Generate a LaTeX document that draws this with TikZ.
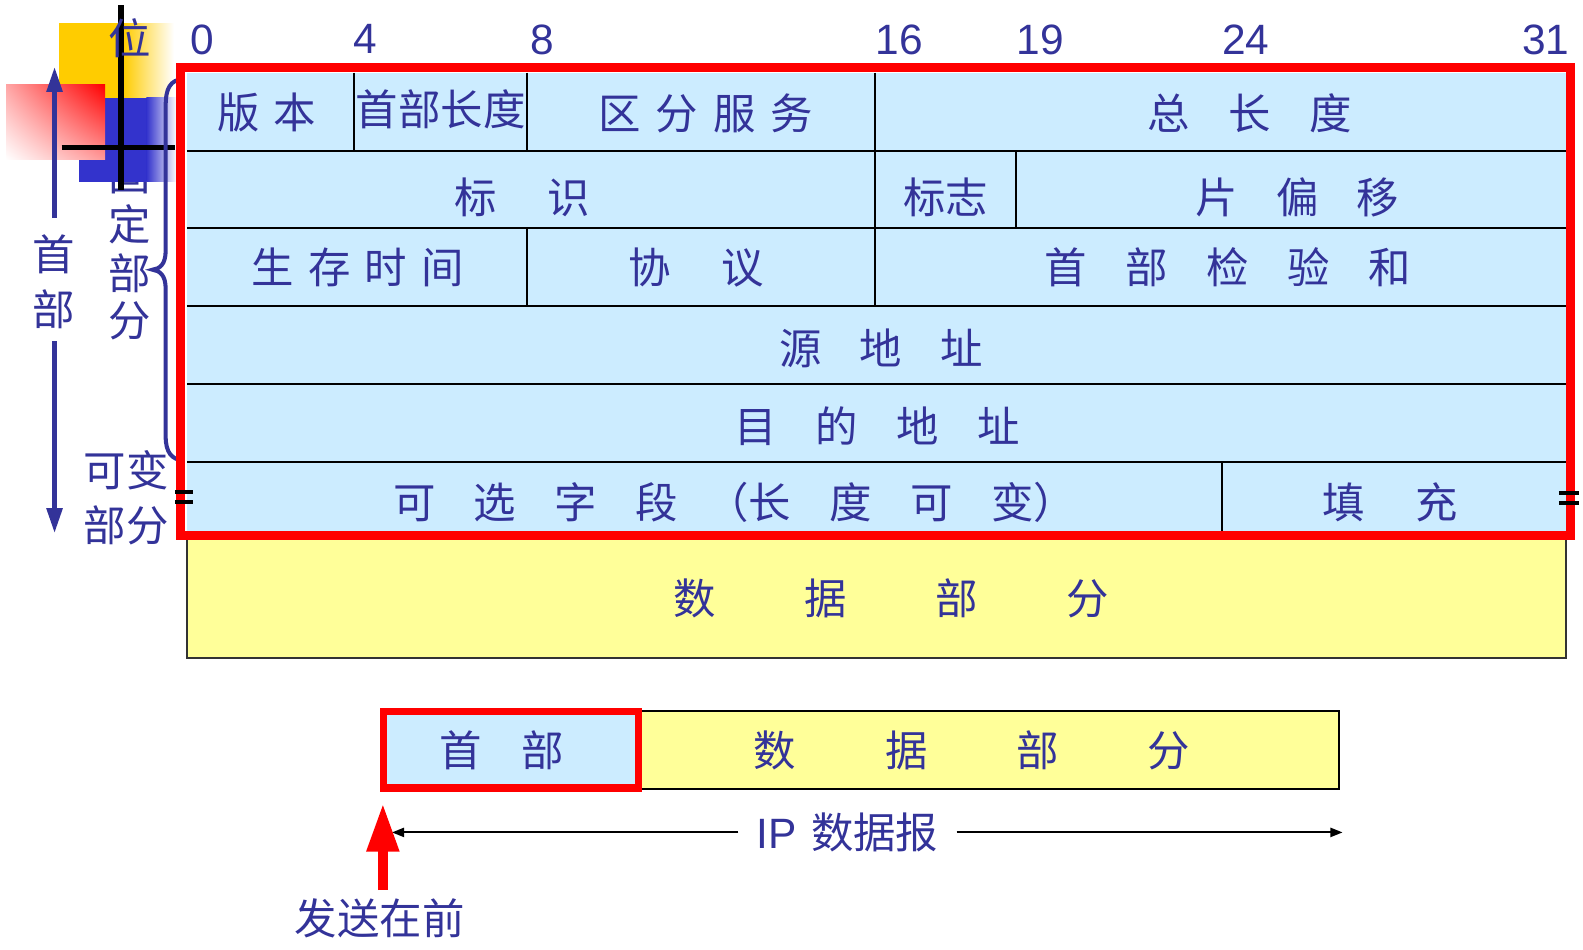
\documentclass[tikz,border=0pt]{standalone}
\usepackage{fontspec}
\setmainfont{Noto Sans CJK SC}
\newfontfamily\numfont{Liberation Sans}
\usetikzlibrary{arrows.meta,shadings}
\definecolor{navy}{RGB}{51,51,153}
\definecolor{cellblue}{RGB}{204,236,255}
\definecolor{datayel}{RGB}{255,255,153}
\definecolor{decoyel}{RGB}{255,204,0}
\definecolor{decoblue}{RGB}{51,51,204}
\newcommand\gsp[1]{\hspace*{#1pt}}
\newcommand\bigcjk{\fontsize{42pt}{46pt}\selectfont}
\newcommand\bignum{\numfont\fontsize{42pt}{46pt}\selectfont}
\begin{document}
\begin{tikzpicture}[x=1pt,y=-1pt,
  lbl/.style={text=navy,font=\bigcjk,inner sep=0pt,anchor=west},
  ctr/.style={text=navy,font=\bigcjk,inner sep=0pt,anchor=center},
  num/.style={text=navy,font=\bignum,inner sep=0pt,anchor=center},
  gridline/.style={black,line width=2pt},
  bluearrow/.style={navy,line width=5pt,-{Triangle[length=25pt,width=15pt]}},
  eqmark/.style={black,line width=4pt},
]
\useasboundingbox (0,0) rectangle (1567,940);

% ---- left labels (固 partly hidden by decoration) ----
\node[ctr] (gu)  at (128,174) {固};
\node[ctr] (ding) at (128,222) {定};
\node[ctr] (bu1) at (128,270) {部};
\node[ctr] (fen1) at (128,318) {分};

% ---- table cells ----
\fill[cellblue] (185,72) rectangle (1551,526);
\foreach \yy in {149,226,303,380,457} \draw[gridline] (185,\yy) -- (1551,\yy);
\draw[gridline] (350,72) -- (350,149);
\draw[gridline] (522,72) -- (522,149);
\draw[gridline] (866,72) -- (866,226);
\draw[gridline] (1006,149) -- (1006,226);
\draw[gridline] (522,226) -- (522,303);
\draw[gridline] (866,226) -- (866,303);
\draw[gridline] (1210,457) -- (1210,526);

% ---- data part ----
\draw[fill=datayel,draw=black!80,line width=2pt] (185,532) rectangle (1550,651);

% ---- cell texts ----
\node[lbl] (ver)   at (215,111) {版\gsp{14}本};
\node[lbl] (ihl)   at (352,108) {首部长度};
\node[lbl] (tos)   at (592,112) {区\gsp{15}分\gsp{15}服\gsp{15}务};
\node[lbl] (tlen)  at (1136,112) {总\gsp{38}长\gsp{38}度};
\node[lbl] (ident) at (450,195) {标\gsp{50}识};
\node[lbl] (flags) at (894,195) {标志};
\node[lbl] (foff)  at (1183,195) {片\gsp{38}偏\gsp{38}移};
\node[lbl] (ttl)   at (249,265) {生\gsp{14}存\gsp{14}时\gsp{14}间};
\node[lbl] (proto) at (622,265) {协\gsp{50}议};
\node[lbl] (csum)  at (1034,265) {首\gsp{38}部\gsp{38}检\gsp{38}验\gsp{38}和};
\node[lbl] (src)   at (771,345) {源\gsp{38}地\gsp{38}址};
\node[lbl] (dst)   at (727,422) {目\gsp{38}的\gsp{38}地\gsp{38}址};
\node[lbl] (opt)   at (389,497) {可\gsp{38}选\gsp{38}字\gsp{38}段\gsp{28}（长\gsp{38}度\gsp{38}可\gsp{38}变）};
\node[lbl] (pad)   at (1309,497) {填\gsp{50}充};
\node[lbl] (data)  at (666,592) {数\gsp{88}据\gsp{88}部\gsp{88}分};

% ---- bit numbers ----
\node[num] (b0)  at (200,39) {0};
\node[num] (b4)  at (362,39) {4};
\node[num] (b8)  at (537,39) {8};
\node[num] (b16) at (890,39) {16};
\node[num] (b19) at (1030,39) {19};
\node[num] (b24) at (1233,39) {24};
\node[num] (b31) at (1530,39) {31};

% ---- decoration top-left ----
\fill[decoyel] (58,23) rectangle (122,97);
\shade[left color=decoyel,right color=white] (122,23) rectangle (172,97);
\fill[decoblue] (78,97) rectangle (145,180);
\shade[left color=decoblue,right color=white] (145,97) rectangle (175,180);
\shade[upper left=red!35,upper right=red,lower left=white,lower right=red!40] (6,84) rectangle (104,158);
\draw[black,line width=6pt] (120,5) -- (120,188);
\draw[black,line width=5pt] (61,146) -- (173,146);
\node[ctr] (wei) at (128,38) {位};

% ---- header arrow ----
\node[ctr] (shouL) at (53,252) {首};
\node[ctr] (buL)   at (53,306) {部};
\coordinate (hTop) at (54,66);
\coordinate (hBot) at (54,528);
\coordinate (hA) at (54,216);
\coordinate (hB) at (54,338);
\draw[bluearrow] (hA) -- (hTop);
\draw[bluearrow] (hB) -- (hBot);

% ---- brace ----
\draw[navy,line width=4pt] (182,78) .. controls (168,79) and (164,88) .. (164,105) -- (164,248)
  .. controls (164,262) and (158,266) .. (151,267) .. controls (158,268) and (164,272) .. (164,286)
  -- (164,432) .. controls (164,448) and (170,455) .. (182,456);

% ---- variable part label ----
\node[ctr] (kebian) at (125,465) {可变};
\node[ctr] (bufen)  at (125,520) {部分};

% ---- red frame ----
\draw[red,line width=9pt] (179,67) rectangle (1555,530);
\draw[eqmark] (173,487) -- (191,487);
\draw[eqmark] (173,497) -- (191,497);
\draw[eqmark] (1543,488) -- (1563,488);
\draw[eqmark] (1543,498) -- (1563,498);

% ---- bottom datagram ----
\draw[fill=datayel,draw=black,line width=2pt] (632,704) rectangle (1325,781);
\draw[fill=cellblue,draw=red,line width=7pt] (380,704) rectangle (632,780);
\node[lbl] (hdr)  at (435,743) {首\gsp{39}部};
\node[lbl] (dat2) at (746,743) {数\gsp{88}据\gsp{88}部\gsp{88}分};

\node[text=navy,inner sep=0pt,inner xsep=18pt,anchor=center] (ipd) at (839,824)
  {{\bignum IP}\hspace*{14pt}{\bigcjk 数据报}};
\coordinate (ipL) at (388,824);
\coordinate (ipR) at (1329,824);
\draw[black,line width=2pt,-{Triangle[length=12pt,width=9pt]}] (ipd.west) -- (ipL);
\draw[black,line width=2pt,-{Triangle[length=12pt,width=9pt]}] (ipd.east) -- (ipR);

\coordinate (sA) at (379,881);
\coordinate (sB) at (379,795);
\draw[red,line width=10pt,-{Triangle[length=48pt,width=30pt]}] (sA) -- (sB);
\node[ctr] (send) at (376,909) {发送在前};
\end{tikzpicture}
\end{document}
